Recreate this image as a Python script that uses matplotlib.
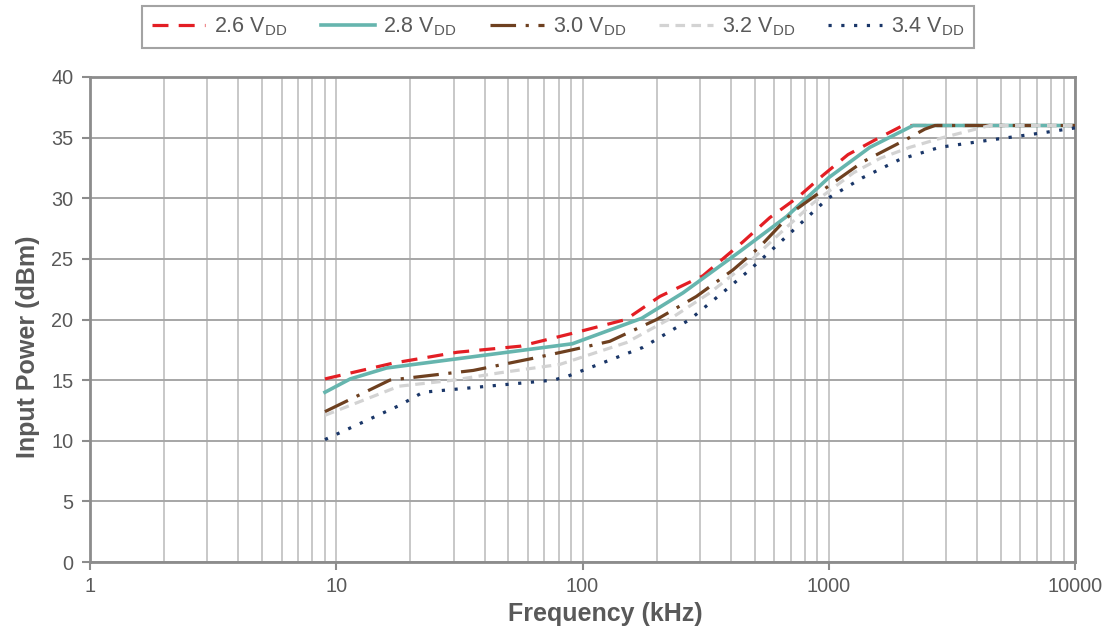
import matplotlib
matplotlib.use("Agg")
import matplotlib.pyplot as plt
from matplotlib.ticker import FixedLocator, NullFormatter, LogLocator

plt.rcParams['font.family'] = ['Liberation Sans', 'DejaVu Sans']
plt.rcParams['mathtext.fontset'] = 'custom'
plt.rcParams['mathtext.rm'] = 'Liberation Sans'
plt.rcParams['mathtext.it'] = 'Liberation Sans:italic'
plt.rcParams['mathtext.bf'] = 'Liberation Sans:bold'

# ---- data ----
labels = ['2.6 V$_{\\mathrm{DD}}$', '2.8 V$_{\\mathrm{DD}}$', '3.0 V$_{\\mathrm{DD}}$',
          '3.2 V$_{\\mathrm{DD}}$', '3.4 V$_{\\mathrm{DD}}$']

f_26 = [9, 17, 31, 56, 97, 150, 206, 308, 448, 576, 751, 948, 1197, 1538, 2000, 10000]
p_26 = [15.1, 16.4, 17.3, 17.8, 19.0, 20.0, 21.9, 23.6, 26.4, 28.4, 30.1, 31.9, 33.6, 34.8, 36.0, 36.0]

f_28 = [9, 11.4, 16, 91, 174, 256, 435, 675, 1000, 1469, 2200, 10000]
p_28 = [14.0, 15.1, 16.0, 18.0, 20.1, 22.2, 25.6, 28.5, 31.7, 34.2, 36.0, 36.0]

f_30 = [9, 16.5, 36, 63, 91, 129, 200, 290, 409, 525, 717, 966, 1374, 2040, 2455, 2700, 10000]
p_30 = [12.4, 15.0, 15.8, 16.8, 17.5, 18.2, 20.0, 21.9, 24.1, 26.0, 28.9, 30.8, 33.0, 34.8, 35.7, 36.0, 36.0]

f_32 = [9, 18, 30, 46, 81, 151, 233, 329, 485, 633, 864, 1260, 1620, 2134, 2905, 4510, 10000]
p_32 = [12.1, 14.5, 15.0, 15.6, 16.3, 18.1, 20.2, 22.2, 24.9, 27.1, 29.6, 32.1, 33.3, 34.2, 35.0, 36.0, 36.0]

f_34 = [9, 18, 22.5, 76, 86.5, 176, 273, 396, 478, 577, 695, 993, 1374, 1944, 2820, 4510, 5800, 7400, 10000]
p_34 = [10.1, 12.9, 14.0, 15.0, 15.3, 17.7, 20.0, 22.7, 24.1, 25.6, 27.1, 30.0, 31.7, 33.2, 34.2, 34.8, 35.1, 35.4, 35.8]

x_ticks = [1, 10, 100, 1000, 10000]
x_ticklabels = ['1', '10', '100', '1000', '10000']
y_ticks = [0, 5, 10, 15, 20, 25, 30, 35, 40]

# ---- figure ----
fig = plt.figure(figsize=(11.1, 6.35), dpi=100)
ax = fig.add_axes([90/1110, (635-562)/635, (1075-90)/1110, (562-77)/635])

tc = '#595959'
ax.plot(f_26, p_26, color='#E31E24', lw=2.3, dashes=(5, 3.2), dash_capstyle='butt', label=labels[0], zorder=3)
ax.plot(f_28, p_28, color='#66B5AE', lw=2.6, solid_joinstyle='round', label=labels[1], zorder=4)
ax.plot(f_30, p_30, color='#6E4020', lw=2.3, dashes=(8, 3, 1, 3), dash_capstyle='butt', label=labels[2], zorder=5)
ax.plot(f_32, p_32, color='#D3D3D3', lw=2.3, dashes=(3, 2), dash_capstyle='butt', label=labels[3], zorder=6)
ax.plot(f_34, p_34, color='#1A3668', lw=2.3, dashes=(1, 3), dash_capstyle='butt', label=labels[4], zorder=7)

ax.set_xscale('log')
ax.set_xlim(1, 10000)
ax.set_ylim(0, 40)
ax.xaxis.set_major_locator(FixedLocator(x_ticks))
ax.set_xticklabels(x_ticklabels)
ax.xaxis.set_minor_locator(LogLocator(base=10, subs=range(2, 10)))
ax.xaxis.set_minor_formatter(NullFormatter())
ax.set_yticks(y_ticks)

ax.grid(True, which='major', axis='y', color='#A6A6A6', lw=1.4, zorder=0)
ax.grid(True, which='both', axis='x', color='#C8C8C8', lw=1.4, zorder=0)
ax.set_axisbelow(True)

for s in ax.spines.values():
    s.set_color('#8C8C8C')
    s.set_linewidth(2.0)

ax.tick_params(axis='both', which='major', colors='#8C8C8C', labelcolor=tc,
               labelsize=14.3, length=6, width=1.5, direction='out')
ax.tick_params(axis='x', which='minor', length=0)
ax.tick_params(axis='x', pad=5)
ax.tick_params(axis='y', pad=6)

ax.set_xlabel('Frequency (kHz)', fontsize=18, fontweight='bold', color=tc, labelpad=4)
ax.set_ylabel('Input Power (dBm)', fontsize=18, fontweight='bold', color=tc, labelpad=8)
ax.xaxis.label.set_x((605 - 90) / 985)
ax.yaxis.label.set_y((562 - 347) / 485)

leg = fig.legend(loc='center', bbox_to_anchor=(558/1110, 1 - 27/635), ncol=5,
                 fontsize=15.5, frameon=True, fancybox=False, handlelength=2.5,
                 columnspacing=1.55, handletextpad=0.4, borderpad=0.45, borderaxespad=0.0)
leg.get_frame().set_edgecolor('#8C8C8C')
leg.get_frame().set_linewidth(1.5)
for t in leg.get_texts():
    t.set_color(tc)

fig.savefig('out.png', dpi=100)
